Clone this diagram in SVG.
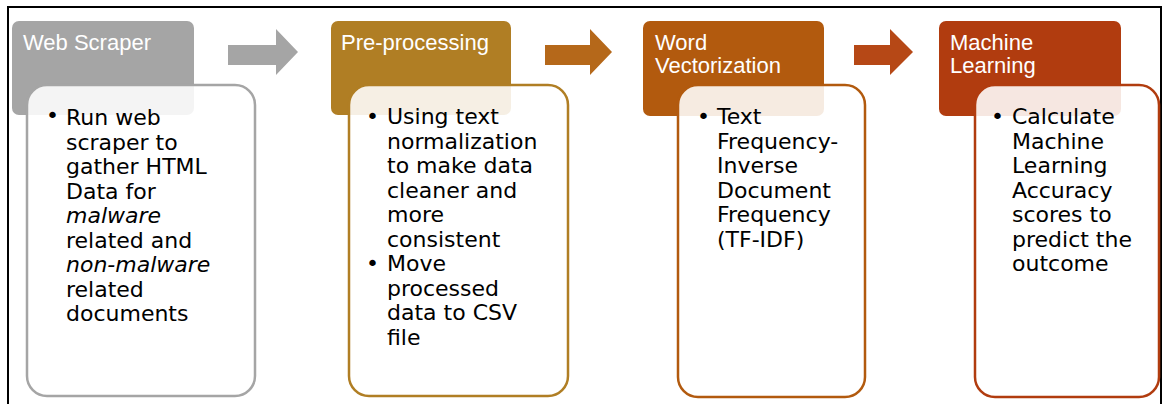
<svg xmlns="http://www.w3.org/2000/svg" width="1162" height="404" viewBox="0 0 1162 404">
  <style>
    .hdr { stroke: none; }
    .title { font-family: "Liberation Sans", Arial, sans-serif; font-size: 22px; fill: #ffffff; }
    .body { fill: #ffffff; fill-opacity: 0.88; stroke-width: 2.5; }
    .txt { font-family: "DejaVu Sans", Verdana, sans-serif; font-size: 22px; fill: #000000; }
    .em { font-style: italic; }
  </style>

  <rect x="0" y="0" width="1162" height="404" fill="#ffffff"/>
  <!-- outer frame -->
  <path d="M8,404 V7 H1161 V404" fill="none" stroke="#000000" stroke-width="2"/>

  <!-- step connectors -->
  <g id="connectors">
    <polygon points="228,45 276,45 276,29 298,52 276,75 276,65 228,65" fill="#a5a5a5"/>
    <polygon points="545,45 590,45 590,29 612,52 590,75 590,65 545,65" fill="#b5681a"/>
    <polygon points="854,45 890,45 890,29 913,52 890,75 890,65 854,65" fill="#b64816"/>
  </g>

  <!-- step 1 -->
  <g id="web-scraper">
    <rect class="hdr" x="12" y="21" width="182" height="94" rx="7" fill="#a5a5a5"/>
    <text class="title" x="23" y="50">Web Scraper</text>
    <rect class="body" x="27" y="85" width="228" height="311" rx="20" stroke="#a5a5a5"/>
    <text class="txt" x="46" y="122.5" font-size="12" fill="#444444">•</text>
    <text class="txt">
      <tspan x="66" y="125">Run web</tspan>
      <tspan x="66" y="149.5">scraper to</tspan>
      <tspan x="66" y="174">gather HTML</tspan>
      <tspan x="66" y="198.5">Data for</tspan>
      <tspan x="66" y="223" class="em">malware</tspan>
      <tspan x="66" y="247.5">related and</tspan>
      <tspan x="66" y="272" class="em">non-malware</tspan>
      <tspan x="66" y="296.5">related</tspan>
      <tspan x="66" y="321">documents</tspan>
    </text>
  </g>

  <!-- step 2 -->
  <g id="pre-processing">
    <rect class="hdr" x="331" y="21" width="180" height="94" rx="7" fill="#b07e24"/>
    <text class="title" x="341" y="50">Pre-processing</text>
    <rect class="body" x="349" y="85" width="219" height="311" rx="20" stroke="#b07e24"/>
    <text class="txt">
      <tspan x="366" y="124">•</tspan>
      <tspan x="387" y="124">Using text</tspan>
      <tspan x="387" y="148.5">normalization</tspan>
      <tspan x="387" y="173">to make data</tspan>
      <tspan x="387" y="197.5">cleaner and</tspan>
      <tspan x="387" y="222">more</tspan>
      <tspan x="387" y="246.5">consistent</tspan>
      <tspan x="366" y="271">•</tspan>
      <tspan x="387" y="271">Move</tspan>
      <tspan x="387" y="295.5">processed</tspan>
      <tspan x="387" y="320">data to CSV</tspan>
      <tspan x="387" y="344.5">file</tspan>
    </text>
  </g>

  <!-- step 3 -->
  <g id="word-vectorization">
    <rect class="hdr" x="643" y="21" width="181" height="95" rx="7" fill="#b25a0e"/>
    <text class="title">
      <tspan x="655" y="50">Word</tspan>
      <tspan x="655" y="73">Vectorization</tspan>
    </text>
    <rect class="body" x="678" y="85" width="187" height="312" rx="20" stroke="#b25a0e"/>
    <text class="txt">
      <tspan x="697" y="124">•</tspan>
      <tspan x="717" y="124">Text</tspan>
      <tspan x="717" y="148.5">Frequency-</tspan>
      <tspan x="717" y="173">Inverse</tspan>
      <tspan x="717" y="197.5">Document</tspan>
      <tspan x="717" y="222">Frequency</tspan>
      <tspan x="717" y="246.5">(TF-IDF)</tspan>
    </text>
  </g>

  <!-- step 4 -->
  <g id="machine-learning">
    <rect class="hdr" x="939" y="21" width="182" height="95" rx="7" fill="#b13c0f"/>
    <text class="title">
      <tspan x="950" y="50">Machine</tspan>
      <tspan x="950" y="73">Learning</tspan>
    </text>
    <rect class="body" x="975" y="85" width="184" height="312" rx="20" stroke="#b13c0f"/>
    <text class="txt">
      <tspan x="991" y="124">•</tspan>
      <tspan x="1012" y="124">Calculate</tspan>
      <tspan x="1012" y="148.5">Machine</tspan>
      <tspan x="1012" y="173">Learning</tspan>
      <tspan x="1012" y="197.5">Accuracy</tspan>
      <tspan x="1012" y="222">scores to</tspan>
      <tspan x="1012" y="246.5">predict the</tspan>
      <tspan x="1012" y="271">outcome</tspan>
    </text>
  </g>
</svg>
